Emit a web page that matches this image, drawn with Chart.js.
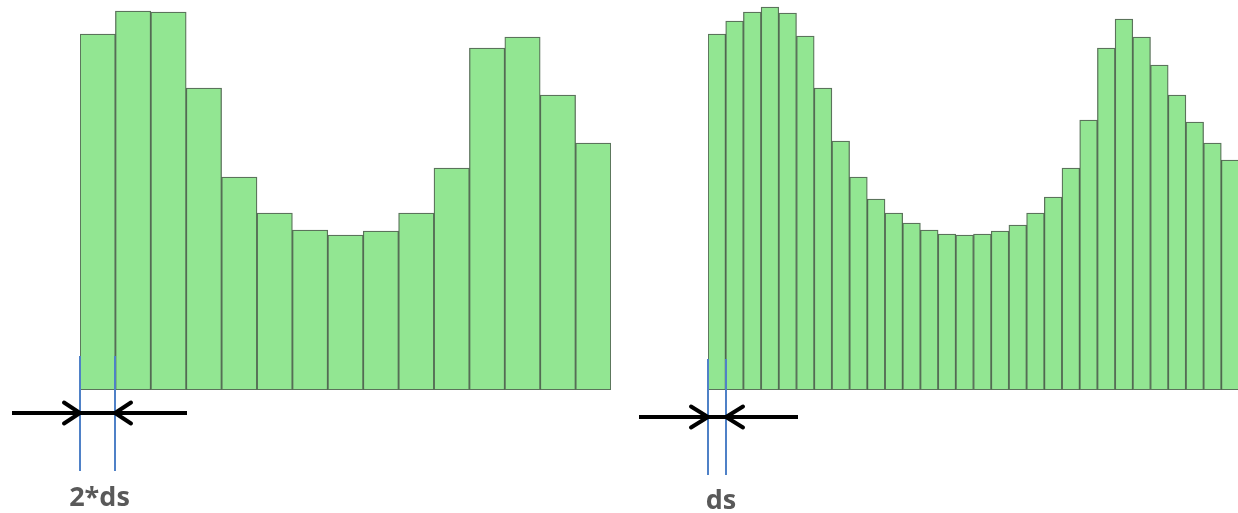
<!DOCTYPE html>
<html>
<head>
<meta charset="utf-8">
<script src="https://cdn.jsdelivr.net/npm/chart.js@4/dist/chart.umd.min.js"></script>
<style>
  html, body { margin: 0; padding: 0; background: #ffffff; width: 1238px; height: 513px; overflow: hidden; }
  .wrap { position: absolute; top: 0; height: 513px; }
  #w1 { left: 0; width: 619px; }
  #w2 { left: 619px; width: 620px; }
</style>
</head>
<body>
<div class="wrap" id="w1"><canvas id="c1"></canvas></div>
<div class="wrap" id="w2"><canvas id="c2"></canvas></div>
<script>
// Coarse histogram (bin width 2*ds): 15 bins
const coarseBins = ['1','2','3','4','5','6','7','8','9','10','11','12','13','14','15'];
const coarseCounts = [356, 379, 378, 302, 213, 177, 160, 155, 159, 177, 222, 342, 353, 295, 247];

// Fine histogram (bin width ds): 30 bins
const fineBins = ['1','2','3','4','5','6','7','8','9','10','11','12','13','14','15',
                  '16','17','18','19','20','21','22','23','24','25','26','27','28','29','30'];
const fineCounts = [356, 369, 378, 383, 377, 354, 302, 249, 213, 191, 177, 167, 160, 156, 155,
                    156, 159, 165, 177, 193, 222, 270, 342, 371, 353, 325, 295, 268, 247, 230];

const labelLeft = '2*ds';
const labelRight = 'ds';
const yMax = 390;

const annotate = {
  id: 'annotate',
  afterDraw(chart, args, opts) {
    const ctx = chart.ctx;
    const meta = chart.getDatasetMeta(0);
    const bar = meta.data[0];
    const half = bar.width / 2;
    const xa = Math.round(bar.x - half);
    const xb = Math.round(bar.x + half);
    ctx.save();
    // blue guide lines
    ctx.strokeStyle = '#4f81c7';
    ctx.lineWidth = 2;
    ctx.beginPath();
    ctx.moveTo(xa, opts.lineTop); ctx.lineTo(xa, opts.lineBottom);
    ctx.moveTo(xb, opts.lineTop); ctx.lineTo(xb, opts.lineBottom);
    ctx.stroke();
    // black arrows
    ctx.strokeStyle = '#000000';
    ctx.lineWidth = 4;
    ctx.lineCap = 'butt';
    ctx.lineJoin = 'miter';
    const ay = opts.arrowY;
    ctx.beginPath();
    ctx.moveTo(xa - opts.tailL, ay); ctx.lineTo(xb + opts.tailR, ay);
    ctx.stroke();
    ctx.lineCap = 'round';
    ctx.beginPath();
    ctx.moveTo(xa - opts.headLen, ay - opts.headHalf); ctx.lineTo(xa, ay); ctx.lineTo(xa - opts.headLen, ay + opts.headHalf);
    ctx.moveTo(xb + opts.headLen, ay - opts.headHalf); ctx.lineTo(xb, ay); ctx.lineTo(xb + opts.headLen, ay + opts.headHalf);
    ctx.stroke();
    // label
    ctx.fillStyle = '#595959';
    ctx.font = 'bold 27px "Open Sans", "DejaVu Sans", sans-serif';
    ctx.textAlign = 'center';
    ctx.textBaseline = 'alphabetic';
    ctx.fillText(opts.text, (xa + xb) / 2 + (opts.textDx || 0), opts.textY);
    ctx.restore();
  }
};

function makeChart(id, labels, data, padding, annot) {
  return new Chart(document.getElementById(id), {
    type: 'bar',
    data: {
      labels: labels,
      datasets: [{
        data: data,
        backgroundColor: '#92e692',
        borderColor: 'rgba(50,80,50,0.8)',
        borderWidth: 1.3,
        borderSkipped: false,
        categoryPercentage: 1.0,
        barPercentage: 1.0
      }]
    },
    options: {
      responsive: true,
      maintainAspectRatio: false,
      animation: false,
      layout: { padding: padding },
      plugins: {
        legend: { display: false },
        tooltip: { enabled: false },
        annotate: annot
      },
      scales: {
        x: { display: false },
        y: { display: false, min: 0, max: yMax }
      }
    },
    plugins: [annotate]
  });
}

makeChart('c1', coarseBins, coarseCounts,
  { left: 80, right: 8, top: 0, bottom: 123 },
  { lineTop: 356, lineBottom: 471, arrowY: 413, tailL: 68, tailR: 72, headLen: 16, headHalf: 10.5, text: labelLeft, textY: 506, textDx: 2 });

makeChart('c2', fineBins, fineCounts,
  { left: 89, right: 0, top: 0, bottom: 123 },
  { lineTop: 359, lineBottom: 475, arrowY: 417, tailL: 69, tailR: 72, headLen: 17, headHalf: 10.5, text: labelRight, textY: 509, textDx: 4 });
</script>
</body>
</html>
